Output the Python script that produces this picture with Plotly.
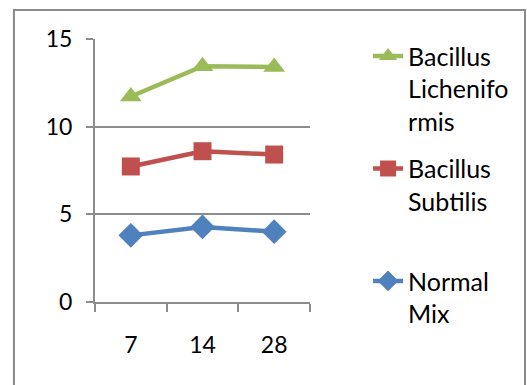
import plotly.graph_objects as go

# Sampling days (categorical x axis)
days = ["7", "14", "28"]

# Measured values per culture
normal_mix = [3.80, 4.28, 4.01]
bacillus_subtilis = [7.73, 8.60, 8.41]
bacillus_licheniformis = [11.72, 13.45, 13.40]

y_ticks = [0, 5, 10, 15]

FONT = "Lato"
GRID = "#8c8c8c"

series = [
    ("Bacillus<br>Lichenifo<br>rmis", bacillus_licheniformis, "#9BBB59", "triangle-up", 19),
    ("Bacillus<br>Subtilis<br> ", bacillus_subtilis, "#C0504D", "square", 18),
    ("Normal<br>Mix", normal_mix, "#4F81BD", "diamond", 19),
]

fig = go.Figure()
for i, (name, vals, color, symbol, size) in enumerate(series):
    fig.add_trace(go.Scatter(
        x=days, y=vals, name=name, mode="lines+markers",
        line=dict(color=color, width=4.5),
        marker=dict(symbol=symbol, size=size, color=color),
        legendgroup=f"g{i}",
    ))

# Outer chart frame
fig.add_shape(type="rect", xref="paper", yref="paper",
              x0=-0.377, x1=2.0, y0=-0.5, y1=1.110,
              line=dict(color="#8a8a8a", width=2), fillcolor="rgba(0,0,0,0)",
              layer="below")

fig.update_layout(
    width=527, height=385,
    margin=dict(l=95, r=217, t=39, b=82.5),
    paper_bgcolor="white", plot_bgcolor="white",
    font=dict(family=FONT, size=23, color="#000000"),
    showlegend=True,
    legend=dict(
        x=1.27, y=1.022, xanchor="left", yanchor="top",
        traceorder="grouped", valign="top",
        tracegroupgap=12, itemwidth=30, maxheight=385,
        font=dict(family=FONT, size=25, color="#000000"),
        bgcolor="rgba(0,0,0,0)",
    ),
    xaxis=dict(
        type="category", range=[-0.5, 2.5],
        showline=True, linecolor=GRID, linewidth=2,
        ticks="outside", tickson="boundaries", ticklen=8, tickwidth=2, tickcolor=GRID,
        showgrid=False, ticklabelstandoff=21,
        tickfont=dict(family=FONT, size=23),
    ),
    yaxis=dict(
        range=[0, 15], tickvals=y_ticks,
        showline=True, linecolor=GRID, linewidth=2,
        ticks="outside", ticklen=7, tickwidth=2, tickcolor=GRID,
        showgrid=True, gridcolor=GRID, gridwidth=2,
        zeroline=False, ticklabelstandoff=9,
        tickfont=dict(family=FONT, size=23),
    ),
)

fig.write_html("out.html")
